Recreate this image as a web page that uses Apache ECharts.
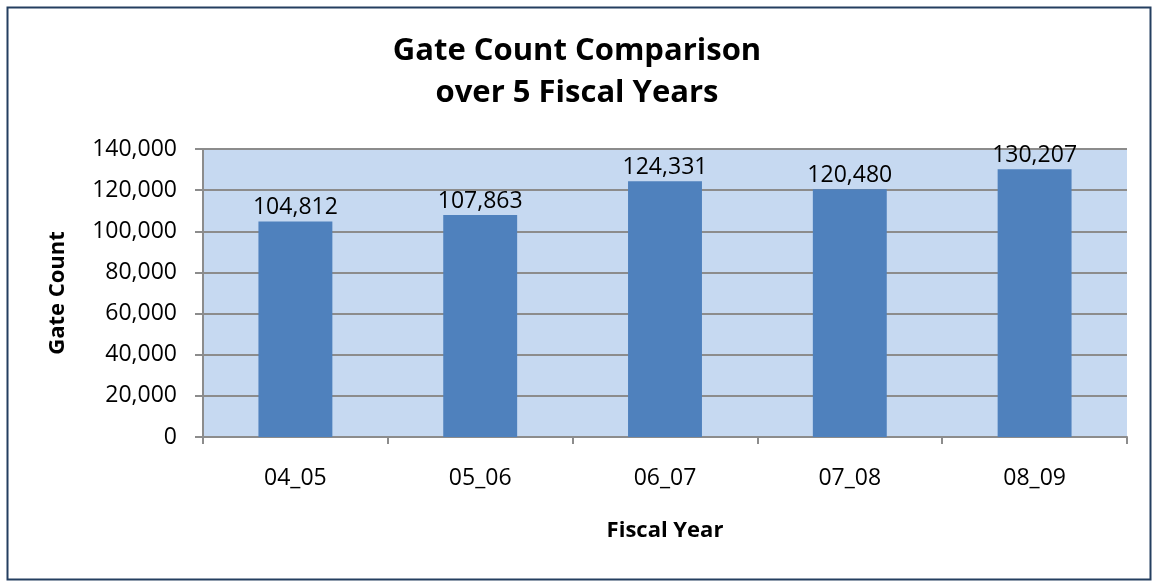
<!DOCTYPE html>
<html><head><meta charset="utf-8">
<script src="https://cdn.jsdelivr.net/npm/echarts@6/dist/echarts.min.js"></script>
<style>html,body{margin:0;padding:0;background:#fff}#c{width:1154px;height:581px}</style>
</head><body><div id="c"></div>
<script>
const categories = ['04_05','05_06','06_07','07_08','08_09'];
const gateCounts = [104812, 107863, 124331, 120480, 130207];
const titleLines = ['Gate Count Comparison', 'over 5 Fiscal Years'];
const yAxisName = 'Gate Count';
const xAxisName = 'Fiscal Year';

const fmt = v => Number(v).toLocaleString('en-US');
const FONT = '"Open Sans", "Liberation Sans", sans-serif';
const chart = echarts.init(document.getElementById('c'));
chart.setOption({
  animation: false,
  textStyle: { fontFamily: FONT },
  title: {
    text: titleLines.join('\n'),
    left: 'center', top: 25,
    textStyle: { fontSize: 31, fontWeight: 'bold', color: '#000', lineHeight: 42, fontFamily: FONT }
  },
  graphic: [{
    type: 'rect', left: 5, top: 5, silent: true,
    shape: { width: 1143, height: 572 },
    style: { fill: 'none', stroke: '#243F60', lineWidth: 2 }
  }],
  grid: { left: 203, right: 27, top: 149, bottom: 144, show: true, backgroundColor: '#C6D9F1', borderWidth: 0 },
  xAxis: {
    type: 'category', data: categories,
    name: xAxisName, nameLocation: 'middle', nameGap: 83,
    nameTextStyle: { fontSize: 22, fontWeight: 'bold', color: '#000' },
    axisLine: { lineStyle: { color: '#8C8C8C', width: 2 } },
    axisTick: { show: true, length: 7, lineStyle: { color: '#8C8C8C', width: 2 } },
    axisLabel: { fontSize: 23, color: '#000', margin: 30 }
  },
  yAxis: {
    type: 'value', min: 0, max: 140000, interval: 20000,
    name: yAxisName, nameLocation: 'middle', nameGap: 134, nameRotate: 90,
    nameTextStyle: { fontSize: 22, fontWeight: 'bold', color: '#000' },
    axisLine: { show: true, lineStyle: { color: '#8C8C8C', width: 2 } },
    axisTick: { show: true, length: 8, lineStyle: { color: '#8C8C8C', width: 2 } },
    axisLabel: { fontSize: 23, color: '#000', margin: 26, formatter: fmt },
    splitLine: { lineStyle: { color: '#8C8C8C', width: 2 } }
  },
  series: [{
    type: 'bar', data: gateCounts, barWidth: '40%',
    itemStyle: { color: '#4F81BD' },
    label: { show: true, position: 'top', distance: 2, fontSize: 23, color: '#000', formatter: p => fmt(p.value) }
  }]
});
</script></body></html>
